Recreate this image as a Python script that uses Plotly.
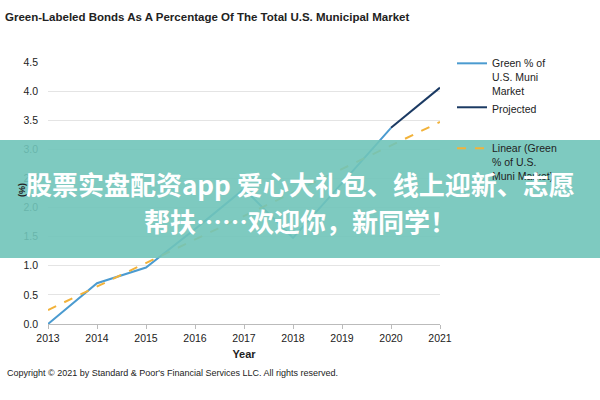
import plotly.graph_objects as go

years = [2013, 2014, 2015, 2016, 2017, 2018, 2019, 2020]
green_pct = [0.0, 0.70, 0.97, 1.63, 2.32, 1.48, 2.42, 3.37]
proj_years = [2020, 2021]
proj_vals = [3.37, 4.06]
trend_years = [2013, 2021]
trend_vals = [0.24, 3.47]
x_ticks = [2013, 2014, 2015, 2016, 2017, 2018, 2019, 2020, 2021]
y_ticks = [0.0, 0.5, 1.0, 1.5, 2.0, 2.5, 3.0, 3.5, 4.0, 4.5]

FONT = "Liberation Sans, Arial"

# plot area in pixels
L, R, T, B = 48, 440, 62, 324
W, H = 600, 400
def px(x):
    return (x - L) / (R - L)
def py(y):
    return (B - y) / (B - T)

fig = go.Figure()
fig.add_trace(go.Scatter(x=years, y=green_pct, mode="lines",
                         name="Green % of<br>U.S. Muni<br>Market",
                         line=dict(color="#4b9bd0", width=2),
                         legendgroup="a"))
fig.add_trace(go.Scatter(x=proj_years, y=proj_vals, mode="lines",
                         name="Projected",
                         line=dict(color="#1b3a63", width=2),
                         legendgroup="a"))
fig.add_trace(go.Scatter(x=trend_years, y=trend_vals, mode="lines",
                         name="Linear (Green<br>% of U.S.<br>Muni Market)",
                         line=dict(color="#f2b23a", width=2, dash="dash"),
                         legendgroup="b"))

fig.update_layout(
    width=W, height=H,
    margin=dict(l=L, r=W - R, t=T, b=H - B),
    paper_bgcolor="white", plot_bgcolor="white",
    font=dict(family=FONT, size=10, color="#222"),
    showlegend=True,
    legend=dict(x=px(452), y=py(50), xanchor="left", yanchor="top",
                valign="top", tracegroupgap=22, traceorder="grouped",
                font=dict(family=FONT, size=10.5, color="#222"),
                bgcolor="rgba(0,0,0,0)", itemwidth=30),
    xaxis=dict(range=[2013, 2021], tickvals=x_ticks, ticktext=[str(v) for v in x_ticks],
               showgrid=False, showline=True, linecolor="#bbbbbb", linewidth=1,
               ticks="outside", ticklen=4, tickcolor="#bbbbbb",
               tickfont=dict(size=10.5, family=FONT, color="#222"),
               title=dict(text="<b>Year</b>", font=dict(size=11, family=FONT, color="#222"), standoff=7),
               zeroline=False, fixedrange=True),
    yaxis=dict(range=[0, 4.5], tickvals=y_ticks, tickformat=".1f",
               showgrid=True, gridcolor="#e4e4e4", gridwidth=1,
               showline=False, zeroline=False,
               tickfont=dict(size=10.5, family=FONT, color="#222"),
               ticks="", ticklabelstandoff=9,
               fixedrange=True),
    title=dict(text="<b>Green-Labeled Bonds As A Percentage Of The Total U.S. Municipal Market</b>",
               x=5 / W, xanchor="left", y=1 - 17 / H, yanchor="middle",
               font=dict(family=FONT, size=11.5, color="#222")),
)

fig.add_annotation(text="<b>(%)</b>", textangle=-90,
                   xref="paper", yref="paper", x=px(22), y=py(190), xanchor="center", yanchor="middle",
                   showarrow=False, font=dict(family=FONT, size=9, color="#222"))

fig.add_annotation(text="Copyright © 2021 by Standard & Poor's Financial Services LLC. All rights reserved.",
                   xref="paper", yref="paper", x=px(5), y=py(373), xanchor="left", yanchor="middle",
                   showarrow=False, font=dict(family=FONT, size=9, color="#222"))

# overlay banner
fig.add_shape(type="rect", xref="paper", yref="paper",
              x0=px(0), x1=px(600), y0=py(258), y1=py(140),
              fillcolor="rgba(112,196,185,0.9)", line=dict(width=0), layer="above")
fig.add_annotation(text="<b>股票实盘配资app 爱心大礼包、线上迎新、志愿</b>",
                   xref="paper", yref="paper", x=px(300), y=py(183), xanchor="center", yanchor="middle",
                   showarrow=False, font=dict(family="Noto Sans CJK SC", size=26, color="white"))
fig.add_annotation(text="<b>帮扶……欢迎你，新同学！</b>",
                   xref="paper", yref="paper", x=px(300), y=py(220), xanchor="center", yanchor="middle",
                   showarrow=False, font=dict(family="Noto Sans CJK SC", size=26, color="white"))

fig.write_html("out.html")
